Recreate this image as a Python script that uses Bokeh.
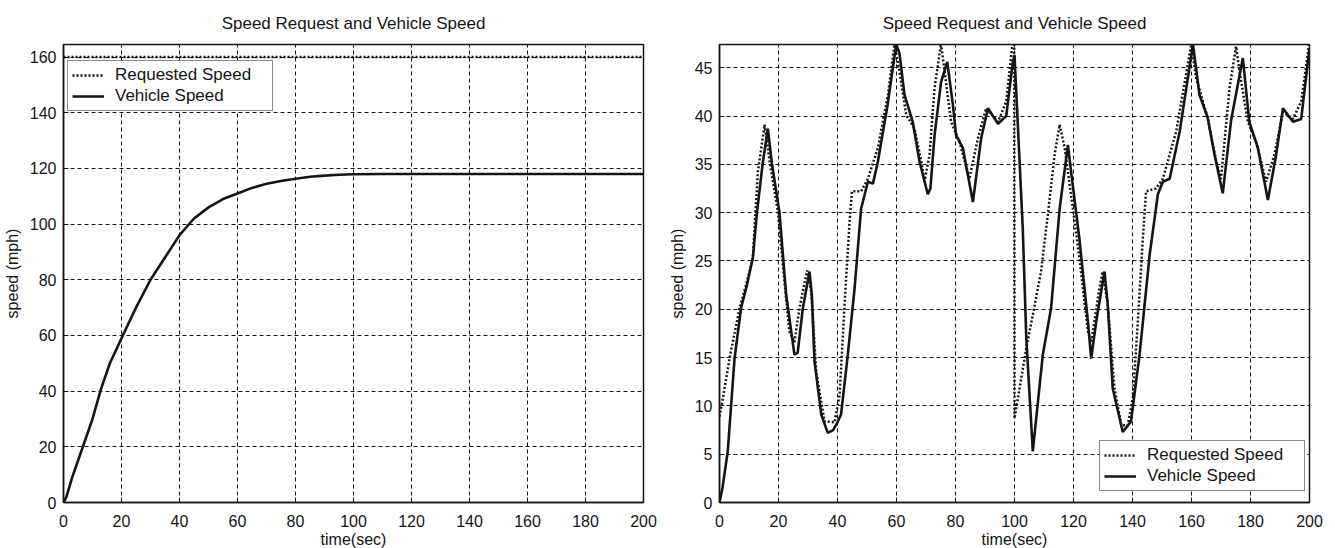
from bokeh.plotting import figure
from bokeh.layouts import row
from bokeh.models import Legend, LegendItem, Range1d, FixedTicker
from bokeh.embed import file_html
from bokeh.resources import INLINE

TITLE = "Speed Request and Vehicle Speed"
X_LABEL = "time(sec)"
Y_LABEL = "speed (mph)"
SERIES = ["Requested Speed", "Vehicle Speed"]

x_ticks = [0, 20, 40, 60, 80, 100, 120, 140, 160, 180, 200]
left_y_ticks = [0, 20, 40, 60, 80, 100, 120, 140, 160]
right_y_ticks = [0, 5, 10, 15, 20, 25, 30, 35, 40, 45]

# ---- left chart: constant request ----
left_req_t = [0, 200]
left_req_v = [160, 160]
left_veh_t = [0, 1, 3, 5, 7, 10, 13, 16, 20, 25, 30, 35, 40, 45, 50, 55, 60, 65, 70,
              75, 80, 85, 90, 95, 100, 110, 120, 140, 160, 180, 200]
left_veh_v = [0, 2, 9, 15, 21, 30, 41, 50, 59, 70, 80, 88, 96, 102, 106, 109, 111, 113,
              114.5, 115.5, 116.3, 117, 117.4, 117.7, 117.9, 118, 118, 118, 118, 118, 118]

# ---- right chart: drive cycle ----
right_req_t = [0, 1, 3.4, 6.8, 9, 11.3, 13, 15.3, 17, 19.8, 22, 23.7, 25.4, 27.1, 29.7, 31.1,
               32.8, 35.6, 39, 40.7, 42.4, 44.1, 44.9, 48, 50.3, 53.7, 57.1, 59.3, 61, 63.3,
               66.1, 68.4, 69.5, 71.2, 72.9, 75.1, 76.3, 78.5, 81.4, 84.7, 87.6, 90.4, 94.4,
               97.2, 99.4, 99.9, 100, 101.7, 104, 106.2, 109, 111.3, 113.6, 115.3, 117, 119.8,
               122, 124.9, 126, 128.8, 129.9, 131.6, 133.9, 136.2, 138.4, 140.1, 141.8, 143.5,
               144.6, 148, 150.3, 154.8, 159.9, 161.6, 165.5, 168.4, 170, 172.9, 175.1, 176.3,
               179.1, 181.9, 185.3, 188.1, 191, 194.4, 197.2, 200]
right_req_v = [8.9, 10.5, 14.9, 20.1, 22.5, 25.3, 34.2, 39.1, 35.3, 30.1, 22.9, 17.7, 16.6,
               20.1, 24, 21.8, 13.5, 8.4, 8.3, 11.1, 20.5, 29.1, 32.2, 32.2, 33.5, 36.7, 42.2,
               47.4, 44.6, 40.1, 38.7, 35.3, 33.2, 36, 42.9, 47.5, 44.6, 39.4, 37.3, 33.5, 37.7,
               40.8, 39.4, 41.5, 47.7, 48, 8.7, 11.8, 16, 19.4, 23.9, 29.8, 36, 39.1, 36.7, 30.4,
               25.3, 17.7, 16.6, 22.2, 23.9, 20.5, 11.8, 8, 8, 10.8, 18.7, 27.3, 32.2, 32.5,
               33.5, 38.4, 47.4, 43.9, 39.8, 35.3, 33.5, 42.9, 47.2, 44.6, 39.4, 37.3, 33.2,
               36, 40.4, 39.7, 41.5, 47.7]
right_veh_t = [0, 1, 2.8, 5.1, 7.3, 9.3, 11.3, 12.7, 14.6, 16.4, 17.8, 20.3, 22.6, 25.4, 26.5,
               28.2, 30.5, 31.3, 32.2, 34.5, 36.7, 38.5, 40, 41.2, 43.5, 45.8, 48, 50.3, 52,
               53.7, 57, 59.9, 61, 62.7, 65.5, 67.8, 70.6, 71.5, 72.9, 75.1, 77.2, 79.1, 80.2,
               82.5, 85.9, 88.7, 91, 94.4, 97.2, 99.4, 100, 102.8, 104, 106.2, 109.6, 112.4,
               115.3, 118.1, 119.2, 122, 124.9, 126, 127.7, 130.5, 131.6, 133.3, 136.7, 139.5,
               142.4, 145.8, 148.6, 150.3, 152.6, 156, 160.5, 162.7, 165.5, 167.8, 170.6, 173.4,
               177.4, 179.6, 182.5, 185.9, 188.7, 191, 194.4, 197.2, 199.4, 200]
right_veh_v = [0, 1.5, 5.3, 14.9, 20.1, 22.5, 25.3, 30, 35, 38.7, 35, 30.1, 21.5, 15.3, 15.5,
               20, 23.9, 21.5, 14.6, 9.1, 7.2, 7.5, 8.3, 9.1, 15.3, 22.2, 30.4, 33.2, 33, 35.3,
               41.2, 47.4, 46.5, 42.2, 39.4, 35.3, 31.9, 32.5, 38, 43.5, 45.6, 41.2, 38, 36.7,
               31.1, 37.7, 40.8, 39.2, 40, 45.5, 46.3, 28.4, 17, 5.3, 15.3, 20.1, 30.4, 37, 34.2,
               27.3, 18.7, 14.9, 18.7, 23.9, 20.5, 11.8, 7.3, 8.4, 15.3, 25.6, 31.9, 33.2, 33.5,
               38.4, 47.4, 42.2, 39.8, 36, 32, 39.5, 46, 39.4, 36.7, 31.3, 36, 40.8, 39.4, 39.7,
               45.5, 47]

FONT = "Liberation Sans"
INK = "#151515"


def make_panel(frame_w, frame_h, border, y_end, y_ticks, req_t, req_v, veh_t, veh_v, legend_loc):
    bl, br, bt, bb = border
    p = figure(frame_width=frame_w, frame_height=frame_h, min_border_left=bl, min_border_right=br,
               min_border_top=bt, min_border_bottom=bb,
               x_range=Range1d(0, 200), y_range=Range1d(0, y_end),
               output_backend="svg", toolbar_location=None, title=TITLE)
    p.background_fill_color = "white"
    p.border_fill_color = "white"
    p.outline_line_color = INK
    p.outline_line_width = 1.5
    p.title.align = "center"
    p.title.text_font = FONT
    p.title.text_font_size = "17px"
    p.title.text_font_style = "normal"
    p.title.text_color = INK
    p.title.standoff = 23

    for ax, ticks in ((p.xaxis[0], x_ticks), (p.yaxis[0], y_ticks)):
        ax.ticker = FixedTicker(ticks=ticks)
        ax.axis_line_color = INK
        ax.axis_line_width = 1.5
        ax.major_tick_in = 5
        ax.major_tick_out = 0
        ax.major_tick_line_color = INK
        ax.minor_tick_line_color = None
        ax.major_label_text_font = FONT
        ax.major_label_text_font_size = "16px"
        ax.major_label_text_color = INK
        ax.axis_label_text_font = FONT
        ax.axis_label_text_font_size = "16px"
        ax.axis_label_text_font_style = "normal"
        ax.axis_label_text_color = INK
    p.xaxis.axis_label = X_LABEL
    p.yaxis.axis_label = Y_LABEL
    p.xaxis.major_label_standoff = 12
    p.xaxis.axis_label_standoff = 1
    p.yaxis.major_label_standoff = 7
    p.yaxis.axis_label_standoff = 6

    p.xgrid.ticker = FixedTicker(ticks=x_ticks)
    p.ygrid.ticker = FixedTicker(ticks=y_ticks)
    for g in (p.xgrid[0], p.ygrid[0]):
        g.grid_line_color = INK
        g.grid_line_dash = "4 3"
        g.grid_line_width = 1
        g.grid_line_alpha = 1.0

    r_req = p.line(req_t, req_v, line_color=INK, line_width=2.5, line_dash="2 2")
    r_veh = p.line(veh_t, veh_v, line_color=INK, line_width=2.6)

    legend = Legend(items=[LegendItem(label=SERIES[0], renderers=[r_req]),
                           LegendItem(label=SERIES[1], renderers=[r_veh])],
                    location=legend_loc)
    legend.border_line_color = INK
    legend.border_line_width = 1
    legend.background_fill_color = "white"
    legend.background_fill_alpha = 1.0
    legend.label_text_font = FONT
    legend.label_text_font_size = "17px"
    legend.label_text_color = INK
    legend.glyph_width = 32
    legend.glyph_height = 20
    legend.label_height = 20
    legend.label_width = 153
    legend.label_standoff = 11
    legend.spacing = 1
    legend.padding = 4
    legend.margin = 0
    p.add_layout(legend)
    return p


p1 = make_panel(580, 458, (58, 22, 43, 45), 164.5, left_y_ticks,
                left_req_t, left_req_v, left_veh_t, left_veh_v, (4, 391))
p2 = make_panel(590, 458, (52, 16, 43, 45), 47.4, right_y_ticks,
                right_req_t, right_req_v, right_veh_t, right_veh_v, (380, 11))

layout = row(p1, p2)
open("out.html", "w").write(file_html(layout, INLINE))
